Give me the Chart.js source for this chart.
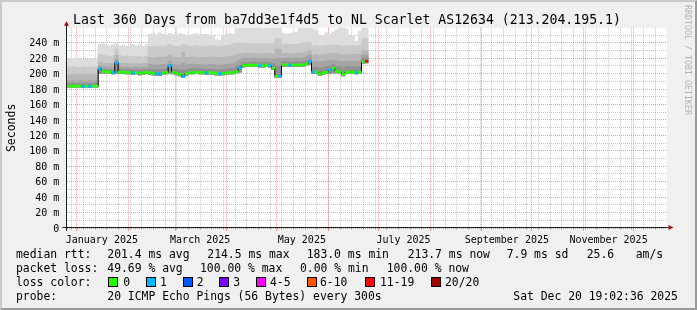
<!DOCTYPE html>
<html><head><meta charset="utf-8">
<script src="https://cdn.jsdelivr.net/npm/chart.js@4.4.1/dist/chart.umd.min.js"></script>
<style>
html,body{margin:0;padding:0;background:#f0f0f0;}
#wrap{position:relative;width:697px;height:310px;overflow:hidden;font-family:"DejaVu Sans Mono",monospace;color:#000;}
canvas{position:absolute;left:0;top:0;}
.t{position:absolute;white-space:pre;font-size:11.4px;line-height:14px;}
.box{position:absolute;width:8px;height:8px;border:1px solid #000;}
#frame{position:absolute;left:0;top:0;width:693px;height:306px;border-style:solid;border-width:2px;border-color:#cbcbcb #999 #999 #cbcbcb;pointer-events:none;}
#credit{position:absolute;left:683px;top:5px;width:10px;writing-mode:vertical-rl;font-size:8.3px;line-height:10px;color:#b4b4b4;white-space:pre;}
</style></head>
<body>
<div id="wrap">
<canvas id="c" width="697" height="310"></canvas>
<div id="credit">RRDTOOL / TOBI OETIKER</div>
<div id="legend"></div>
<div id="frame"></div>
</div>
<script>
// ---- data (day offset from Dec 25 2024 19:02, 360 days span) ----
const days = [0,2,4,6,8,10,12,14,16,18,20,22,24,26,28,30,32,34,36,38,40,42,44,46,48,50,52,54,56,58,60,62,64,66,68,70,72,74,76,78,80,82,84,86,88,90,92,94,96,98,100,102,104,106,108,110,112,114,116,118,120,122,124,126,128,130,132,134,136,138,140,142,144,146,148,150,152,154,156,158,160,162,164,166,168,170,172,174,176,178,180];
const medianRtt = [184,184,183.5,184,184,183.5,184,183.5,184,184,
  206,203,202.5,202,201.5,214,202,202,201.5,201.5,201,201.5,200.5,201,202,
  201,200.5,200,199.5,201,201.5,210,201.5,200.5,199,196.5,200,201.5,201.5,202,201.5,201.5,201,201.5,201,200,200,200.5,201,201.5,201.5,
  203,207.5,210.5,211,211,211,211,210.5,210,211,210.5,207,196.5,197,
  211.5,211.5,211,211,211.5,211,211.5,213,215.5,
  202,202,199.5,201,202,205,207,203,202,199,202,202,202,201.5,202,
  215.5,216];
const lossCount = [0,0,0,0,0,1,0,1,0,0,
  1,0,0,0,1,1,0,0,0,0,1,0,0,0,0,
  0,0,1,1,0,0,1,0,0,0,1,0,0,0,0,0,0,1,0,0,0,1,0,0,0,0,
  0,1,0,0,0,0,0,1,0,0,1,0,0,1,
  0,0,1,0,0,0,0,0,1,
  1,0,0,0,0,1,0,0,0,0,0,0,0,1,0,
  0,15];
const pingMin = [182.5,182.5,182,182.5,182.5,182,182.5,182,182.5,182.5,
  200,200.5,200.5,200,199.5,200,200,200,199.5,199.5,199,199.5,198.5,199,200,
  199,198.5,198,197.5,199,199.5,200,199.5,198.5,197,195,198,199.5,199.5,200,199.5,199.5,199,199.5,199,198,198,198.5,199,199.5,199.5,
  201,202,208.5,209,209,209,209,208.5,208,209,208.5,205,195,195,
  209.5,209.5,209,209,209.5,209,209.5,211,212,
  200,200,197.5,199,200,200,201,201,200,197,200,200,200,199.5,200,
  213.5,214];
const pingQ1 = [187.5,187,187.5,187,187.5,187,187,187.5,187,187.5,
  208,206,205.5,205,205,216,205.5,205,205,205.5,204.5,205,204.5,205,205.5,
  206,205.5,205,205,206,206.5,212,206,205.5,205,205,205,206,206.5,206.5,206,206,205.5,206,206,205,205,205.5,206,206.5,207,
  209,211,214,214.5,214.5,215,214.5,214,214,214.5,214,213,210,210,
  215.5,215.5,215,215,215.5,215,215.5,217,219,
  208,208.5,207,208,209,210,212,209.5,209,207.5,209,209,209,208.5,209,
  220,220.5];
const pingQ2 = [191,190.5,191,190,191,190.5,190,191,190.5,191,
  210,209,208.5,208,208.5,219,209,208,208.5,208,208,208.5,207.5,208,208.5,
  212,211.5,211,211.5,212,212.5,216,212,211.5,211,214,211,212,212.5,212,212,211.5,211.5,212,212,211,211,211.5,212,212.5,213,
  215,218,219.5,220,220,220.5,220,219.5,220,220,219.5,219,220,220,
  220,220.5,220,220,220.5,220,220.5,222,224,
  215,216,215,216,216.5,217,218,217,216,215.5,216,216.5,216,216,216.5,
  224,224.5];
const pingQ3 = [199,198,199,198.5,198,199,198.5,198,199,198.5,
  215,214,213,213.5,213,224,214,213,213.5,213,212.5,213,212.5,213,213.5,
  221,220.5,221,221.5,221,222,224,221.5,221,221,228,221,221.5,222,221.5,221,221.5,221,221.5,222,221,221,221.5,222,222.5,223,
  224,226,226,226.5,226,226.5,226,225.5,226,226.5,226,226,232,232,
  226,226.5,226,226,226.5,226.5,227,228,230,
  224,225,224,225,225.5,226,226.5,226,225,224.5,225,225.5,225,225,225.5,
  230,230];
const pingQ4 = [209,208,209,208.5,208,209,208,208.5,209,208,
  225,224,223,222,223,232,224,222.5,223,222,222.5,223,222,221.5,222.5,
  235,236,235.5,236,235,236.5,238,236,235.5,235,238,236,235.5,236,236.5,235,236,235.5,236,236,235,235.5,236,236.5,237,239,
  240,240,239,239.5,238.5,239,239,238.5,239,239,238.5,239,245,245,
  238,238.5,238,237.5,238,239,239.5,240,241,
  236,236.5,235,236,236.5,237,237.5,237,236,235.5,236,236,236.5,236,236.5,
  245,245.5];
const pingMax = [220,220,219.5,220,220.5,219,218.5,219,219.5,219,
  238,239,237,236,237.5,240,236,237,235.5,236.5,238,236,237,235.5,238,
  251,252,250,253,251,250,252,251,250,252,251,250,249,251,252,250,251,251,250,249,244,243,250,251,252,251,
  258,262,262,262,262,262,262,262,258,260,258,259,262,262,
  252,251,252,253,254,262,262,262,262,
  258,256,250,249,253,252,254,257,259,262,258,250,249,242,255,
  259,260];

// ---- axis ticks / labels ----
const xLabelDays = [21.21, 80.21, 141.21, 202.21, 264.21, 325.21];
const xLabels = ['January 2025','March 2025','May 2025','July 2025','September 2025','November 2025'];
const monthStartDays = [6.21,37.21,65.21,96.21,126.21,157.21,187.21,218.21,249.21,279.21,310.21,340.21];
const yTickValues = [0,20,40,60,80,100,120,140,160,180,200,220,240];
const yTickLabels = ['0','20 m','40 m','60 m','80 m','100 m','120 m','140 m','160 m','180 m','200 m','220 m','240 m'];
const yMinorValues = [10,30,50,70,90,110,130,150,170,190,210,230,250];
const lossLegend = ['0','1','2','3','4-5','6-10','11-19','20/20'];
const lossColors = ['#26ff00','#00b8ff','#0059ff','#7e00ff','#ff00ff','#ff5500','#ff0000','#a10000'];

const titleText = 'Last 360 Days from ba7dd3e1f4d5 to NL Scarlet AS12634 (213.204.195.1)';

// weekly (Sunday) minor grid positions
const weekDays = [];
for (let d = 3.21; d < 360; d += 7) weekDays.push(d);

function lossColor(n){
  if (n <= 0) return lossColors[0];
  if (n === 1) return lossColors[1];
  if (n === 2) return lossColors[2];
  if (n === 3) return lossColors[3];
  if (n <= 5) return lossColors[4];
  if (n <= 10) return lossColors[5];
  if (n <= 19) return lossColors[6];
  return lossColors[7];
}
const pts = arr => days.map((d,i)=>({x:d, y:arr[i]}));
const band = arr => days.map((d,i)=>({x:d, y:[pingMin[i], arr[i]]}));

const FONT = 'DejaVu Sans Mono';
const MAJ = 'rgba(224,80,80,0.55)';
const MIN = 'rgba(143,143,143,0.5)';

const bgPlugin = {
  id:'bg',
  beforeDraw(c){
    const {ctx, chartArea:a} = c;
    ctx.save();
    ctx.fillStyle = '#f0f0f0'; ctx.fillRect(0,0,c.width,c.height);
    ctx.fillStyle = '#ffffff'; ctx.fillRect(a.left,a.top,a.right-a.left,a.bottom-a.top);
    ctx.restore();
  }
};
const axisPlugin = {
  id:'axes',
  afterDraw(c){
    const {ctx, chartArea:a} = c;
    ctx.save();
    ctx.strokeStyle = '#202020'; ctx.lineWidth = 1;
    const yb = a.bottom - 0.5, xl = a.left;
    ctx.beginPath();
    ctx.moveTo(xl - 4, yb); ctx.lineTo(a.right + 2, yb);
    ctx.moveTo(xl, a.bottom + 3); ctx.lineTo(xl, a.top - 3);
    ctx.stroke();
    ctx.fillStyle = '#9a1010';
    ctx.beginPath();
    ctx.moveTo(a.right + 2, yb - 2.5); ctx.lineTo(a.right + 7, yb); ctx.lineTo(a.right + 2, yb + 2.5); ctx.closePath();
    ctx.fill();
    ctx.beginPath();
    ctx.moveTo(xl - 2.5, a.top - 2); ctx.lineTo(xl, a.top - 6.5); ctx.lineTo(xl + 2.5, a.top - 2); ctx.closePath();
    ctx.fill();
    ctx.restore();
  }
};

const smoke = (arr, color, order) => ({
  type:'bar', data: band(arr), backgroundColor: color, borderWidth:0,
  grouped:false, barPercentage:1, categoryPercentage:1, order
});

new Chart(document.getElementById('c'), {
  type:'line',
  data:{
    datasets:[
      smoke(pingMax, '#dddddd', 9),
      smoke(pingQ4, '#cacaca', 8),
      smoke(pingQ3, '#b7b7b7', 7),
      smoke(pingQ2, '#a4a4a4', 6),
      smoke(pingQ1, '#919191', 5),
      {data: pts(medianRtt), stepped:'middle', borderWidth:1, borderColor:'#000', fill:false, pointRadius:0, order:2},
      {data: pts(medianRtt), showLine:false, fill:false, pointStyle:'line', pointRadius:1.8,
       pointBorderWidth:2.6, pointBorderColor: lossCount.map(lossColor), pointBackgroundColor: lossCount.map(lossColor), order:1}
    ]
  },
  options:{
    responsive:false, devicePixelRatio:1, animation:false, events:[],
    layout:{padding:{left:0,right:3,top:0,bottom:62}},
    plugins:{
      legend:{display:false}, tooltip:{enabled:false},
      title:{display:true, text:titleText, color:'#000',
        font:{family:FONT, size:13.2, weight:'normal', lineHeight:1.1},
        padding:{top:13.1, bottom:0.1}}
    },
    scales:{
      x:{type:'linear', position:'bottom', min:0, max:360, weight:1, offset:false,
        afterBuildTicks: s => { s.ticks = xLabelDays.map(v=>({value:v})); },
        afterFit: s => { s.height = 20; },
        grid:{display:false}, border:{display:false},
        ticks:{autoSkip:false, maxRotation:0, padding:-1.5, color:'#000',
          font:{family:FONT, size:10}, callback:(v,i)=>xLabels[i]}},
      xWeek:{type:'linear', position:'bottom', min:0, max:360, weight:0, z:1,
        afterBuildTicks: s => { s.ticks = weekDays.map(v=>({value:v})); },
        afterFit: s => { s.height = 0; },
        grid:{color:MIN, drawTicks:true, tickLength:2, tickColor:MIN}, border:{display:false, dash:[1,1]},
        ticks:{display:false}},
      xMonth:{type:'linear', position:'bottom', min:0, max:360, weight:0, z:1,
        afterBuildTicks: s => { s.ticks = monthStartDays.map(v=>({value:v})); },
        afterFit: s => { s.height = 0; },
        grid:{color:MAJ, drawTicks:true, tickLength:3, tickColor:MAJ}, border:{display:false, dash:[1,1]},
        ticks:{display:false}},
      yMinor:{type:'linear', position:'left', min:0, max:259.5, weight:0, z:1,
        afterBuildTicks: s => { s.ticks = yMinorValues.map(v=>({value:v})); },
        afterFit: s => { s.width = 0; },
        grid:{color:MIN, drawTicks:false}, border:{display:false, dash:[1,1]},
        ticks:{display:false}},
      y:{type:'linear', position:'left', min:0, max:259.5, weight:1, z:1,
        afterBuildTicks: s => { s.ticks = yTickValues.map(v=>({value:v})); },
        afterFit: s => { s.width = 66.5; },
        grid:{color:MAJ, drawTicks:false}, border:{display:false, dash:[1,1]},
        title:{display:true, text:'Seconds', color:'#000', font:{family:FONT, size:11.5, lineHeight:1.2}, padding:{top:4.8, bottom:0}},
        ticks:{padding:7.2, color:'#000', labelOffset:1, font:{family:FONT, size:10}, callback:(v,i)=>yTickLabels[i]}},
      yR:{type:'linear', position:'right', min:0, max:1, display:true,
        afterFit: s => { s.width = 27.5; },
        grid:{display:false}, border:{display:false}, ticks:{display:false}}
    }
  },
  plugins:[bgPlugin, axisPlugin]
});

// ---- legend (text below the chart) ----
const legendRows = [
  {top:247.4, items:[[16,'median rtt:'],[107.3,'201.4 ms avg'],[207.3,'214.5 ms max'],[306.7,'183.0 ms min'],[407.7,'213.7 ms now'],[506.7,'7.9 ms sd'],[586.7,'25.6'],[635.7,'am/s']]},
  {top:261.4, items:[[16,'packet loss:'],[107.3,'49.69 % avg'],[200,'100.00 % max'],[300,'0.00 % min'],[386.7,'100.00 % now']]},
  {top:275.4, items:[[16,'loss color:']]},
  {top:289.1, items:[[16,'probe:'],[107.3,'20 ICMP Echo Pings (56 Bytes) every 300s'],[513.3,'Sat Dec 20 19:02:36 2025']]}
];
const lossBoxX = [108.3,145.7,182.7,219.3,256,306.7,365,430.7];
const lossTextX = [123.3,160,196.7,233.3,270,320,380,445];
const lg = document.getElementById('legend');
legendRows.forEach(r => r.items.forEach(([x,t]) => {
  const e = document.createElement('div'); e.className='t'; e.style.left=x+'px'; e.style.top=r.top+'px'; e.textContent=t; lg.appendChild(e);
}));
lossLegend.forEach((t,i) => {
  const b = document.createElement('div'); b.className='box'; b.style.left=lossBoxX[i]+'px'; b.style.top='277px'; b.style.background=lossColors[i]; lg.appendChild(b);
  const e = document.createElement('div'); e.className='t'; e.style.left=lossTextX[i]+'px'; e.style.top='275.4px'; e.textContent=t; lg.appendChild(e);
});
</script>
</body></html>
